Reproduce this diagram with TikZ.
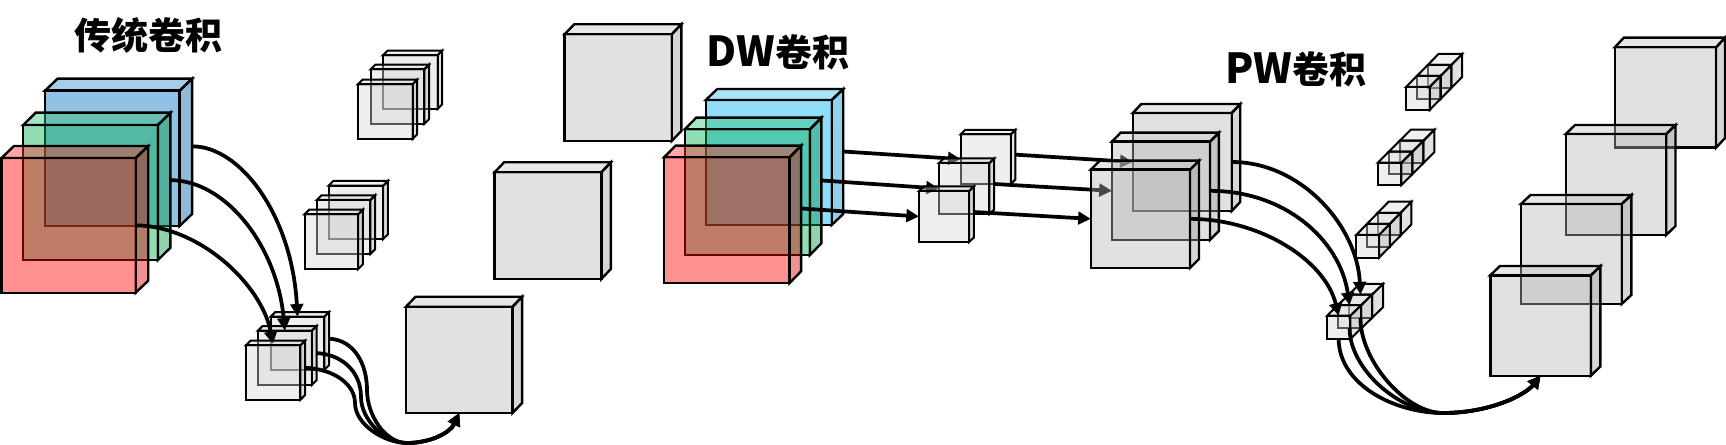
\documentclass[tikz,border=0pt]{standalone}
\usepackage{fontspec}
\newfontfamily\cjk{Noto Sans CJK SC}
\usetikzlibrary{arrows.meta}
\definecolor{cred}{HTML}{FF0000}
\definecolor{cgreen}{HTML}{00B050}
\definecolor{cblue}{HTML}{0070C0}
\definecolor{csky}{HTML}{00B0F0}
\definecolor{cgrey}{HTML}{B4B4B4}
\definecolor{cpale}{HTML}{D4D4D4}
\newcommand{\edgew}{1.8pt}
% name, x0, y0, x1, y1, dx, dy, colour, alpha
\newcommand{\cuboid}[9]{%
  \path[edge,fill=#8!85!black,fill opacity=#9] (#4,#3) -- (#4+#6,#3-#7) -- (#4+#6,#5-#7) -- (#4,#5) -- cycle;
  \path[edge,fill=#8!80!white,fill opacity=#9] (#2,#3) -- (#2+#6,#3-#7) -- (#4+#6,#3-#7) -- (#4,#3) -- cycle;
  \node[edge,fill=#8,fill opacity=#9,inner sep=0pt,outer sep=0pt,anchor=center,
        minimum width={(#4-#2)*0.75pt},minimum height={(#5-#3)*0.75pt}] (#1) at ({(#2+#4)/2},{(#3+#5)/2}) {};
  \coordinate (#1-o) at (#4+#6,{(#3+#5)/2-#7});
}
\tikzset{
  edge/.style={draw=black,line width=\edgew,line join=miter},
  link/.style={draw=black,line width=2.8pt,-{Triangle[length=9.5pt,width=9.5pt]}},
  ttl/.style={font=\cjk\bfseries\fontsize{27.75}{30}\selectfont,inner sep=0pt,text=black},
}
\newcommand{\lat}[1]{{\fontsize{31}{30}\selectfont #1}}
\begin{document}
\begin{tikzpicture}[x=0.75pt,y=-0.75pt]
\useasboundingbox (0,0) rectangle (1726,445);
\node[ttl] (t1) at (148,35) {传统卷积};
\node[ttl] (t2) at (778,52) {\lat{DW}卷积};
\node[ttl] (t3) at (1296,69) {\lat{PW}卷积};

% traditional input
\cuboid{ab}{45}{90.7}{179.6}{226}{12.5}{12}{cblue}{0.43}
\cuboid{ag}{23.2}{125}{157.9}{260}{12.5}{12.3}{cgreen}{0.43}
\cuboid{ar}{1.5}{158}{135.7}{292.7}{12.5}{12}{cred}{0.43}

\renewcommand{\edgew}{1.5pt}
% stacks above
\cuboid{ta}{382.9}{55.3}{437.5}{109}{4.7}{4.7}{cpale}{0.4}
\cuboid{tb}{370.7}{69.3}{424.3}{124}{4.7}{4.7}{cpale}{0.4}
\cuboid{tc}{357.9}{84.3}{412.5}{139}{4.7}{4.7}{cpale}{0.4}
\cuboid{ma}{328.6}{185.7}{383.2}{239}{4.7}{4.7}{cpale}{0.4}
\cuboid{mb}{316.8}{200}{370.4}{254}{4.7}{4.7}{cpale}{0.4}
\cuboid{mc}{304.6}{214.3}{358.2}{269}{4.7}{4.7}{cpale}{0.4}

% lower stack and links
\cuboid{la}{270.7}{316.7}{324.3}{370}{4.7}{4.7}{cpale}{0.4}
\draw[link] (ab-o) .. controls (240,146) and (292,215) .. (la.north);
\cuboid{lb}{257.9}{330.7}{311.8}{385}{4.7}{4.7}{cpale}{0.4}
\draw[link] (ag-o) .. controls (225,180) and (277,245) .. (lb.north);
\draw[link] (ar.east) .. controls (200,226) and (262,285) .. (273,344);
\cuboid{lc}{246}{345.3}{300.4}{399.7}{4.7}{4.7}{cpale}{0.4}

\renewcommand{\edgew}{1.8pt}
% large outputs
\cuboid{ga}{564.6}{34.3}{671.7}{141}{9.6}{10}{cgrey}{0.4}
\cuboid{gb}{494.6}{172.3}{601.3}{279}{9.5}{10}{cgrey}{0.4}
\cuboid{gc}{406}{306.7}{512.5}{413}{9.6}{10}{cgrey}{0.4}
\draw[link] (la-o) .. controls (355,340) and (367,365) .. (367,390) .. controls (367,415) and (385,443) .. (407,443) .. controls (430,443) and (450,433) .. (gc.south);
\draw[link] (lb-o) .. controls (340,354) and (361,370) .. (361,397) .. controls (361,420) and (385,443) .. (407,443) .. controls (430,443) and (450,433) .. (gc.south);
\draw[link] (lc-o) .. controls (335,369) and (355,385) .. (355,403) .. controls (355,425) and (385,443) .. (407,443) .. controls (430,443) and (450,433) .. (gc.south);

% DW input
\cuboid{db}{705.8}{100}{831.7}{225}{11.5}{11}{csky}{0.43}
\cuboid{dg}{684.8}{129.3}{809.9}{255}{11.5}{11.7}{cgreen}{0.43}
\cuboid{dr}{664.1}{157.3}{789.6}{283}{11.5}{11.7}{cred}{0.43}

\renewcommand{\edgew}{1.5pt}
\cuboid{ea}{960.7}{134.3}{1010.8}{184}{4.6}{4.5}{cpale}{0.4}
\draw[link] (db-o) -- (ea.west);
\cuboid{eb}{938.9}{163}{989.4}{214}{4.8}{4.5}{cpale}{0.4}
\draw[link] (dg-o) -- (eb.west);
\cuboid{ec}{919}{191}{969.1}{242}{4.8}{4.5}{cpale}{0.4}
\draw[link] (dr-o) -- (ec.west);

\renewcommand{\edgew}{1.8pt}
\cuboid{fa}{1132.8}{113}{1231.7}{211}{8.5}{9}{cgrey}{0.4}
\draw[link] (ea-o) -- (fa.west);
\cuboid{fb}{1111.9}{141.7}{1210}{240}{8.8}{9}{cgrey}{0.4}
\draw[link] (eb-o) -- (fb.west);
\cuboid{fc}{1090.8}{169.7}{1190}{268}{9}{9}{cgrey}{0.4}
\draw[link] (ec-o) -- (fc.west);

\renewcommand{\edgew}{1.5pt}
% PW small stacks
\cuboid{pa}{1427.7}{65}{1451.3}{88}{10.8}{11}{cpale}{0.4}
\cuboid{pb}{1416.9}{76}{1440.5}{99}{10.8}{11}{cpale}{0.4}
\cuboid{pc}{1406}{87}{1429.6}{110}{10.8}{11}{cpale}{0.4}
\cuboid{qa}{1399.8}{140.7}{1423.4}{163}{11}{11}{cpale}{0.4}
\cuboid{qb}{1388.8}{151.7}{1412.4}{174}{11}{11}{cpale}{0.4}
\cuboid{qc}{1377.8}{162.7}{1401.4}{185}{11}{11}{cpale}{0.4}
\cuboid{ra}{1377.8}{212.8}{1400.6}{235.5}{10.8}{11.1}{cpale}{0.4}
\cuboid{rb}{1367}{223.9}{1389.8}{246.6}{10.8}{11.1}{cpale}{0.4}
\cuboid{rc}{1356.2}{235}{1379}{257.7}{10.8}{11.1}{cpale}{0.4}

\cuboid{sa}{1348.8}{294.5}{1372.1}{317.8}{10.9}{10.6}{cpale}{0.4}
\draw[link] (fa.east) .. controls (1300,161.7) and (1357,225) .. (sa.north);
\cuboid{sb}{1337.9}{305.1}{1361.2}{328.4}{10.9}{10.6}{cpale}{0.4}
\draw[link] (fb.east) .. controls (1285,190.7) and (1340,240) .. (sb.north);
\cuboid{sc}{1327}{315.7}{1350.3}{339}{10.9}{10.6}{cpale}{0.4}
\draw[link] (fc.east) .. controls (1260,219) and (1325,260) .. (sc.north);

\renewcommand{\edgew}{1.8pt}
% right output
\cuboid{ua}{1614.8}{47.3}{1716}{147.7}{9}{9.6}{cgrey}{0.4}
\cuboid{ub}{1565.7}{134}{1666.2}{235}{9.3}{9}{cgrey}{0.4}
\cuboid{uc}{1520.9}{204}{1621.7}{304}{9.6}{9}{cgrey}{0.4}
\cuboid{ud}{1490.3}{275.3}{1590.8}{375.7}{9.6}{9.3}{cgrey}{0.4}
\draw[link] (sa.south) .. controls (1360,360) and (1405,413) .. (1443,413) .. controls (1490,413) and (1525,395) .. (ud.south);
\draw[link] (sb.south) .. controls (1350,370) and (1400,413) .. (1443,413) .. controls (1490,413) and (1525,395) .. (ud.south);
\draw[link] (sc.south) .. controls (1339,385) and (1395,413) .. (1443,413) .. controls (1490,413) and (1525,395) .. (ud.south);
\end{tikzpicture}
\end{document}
